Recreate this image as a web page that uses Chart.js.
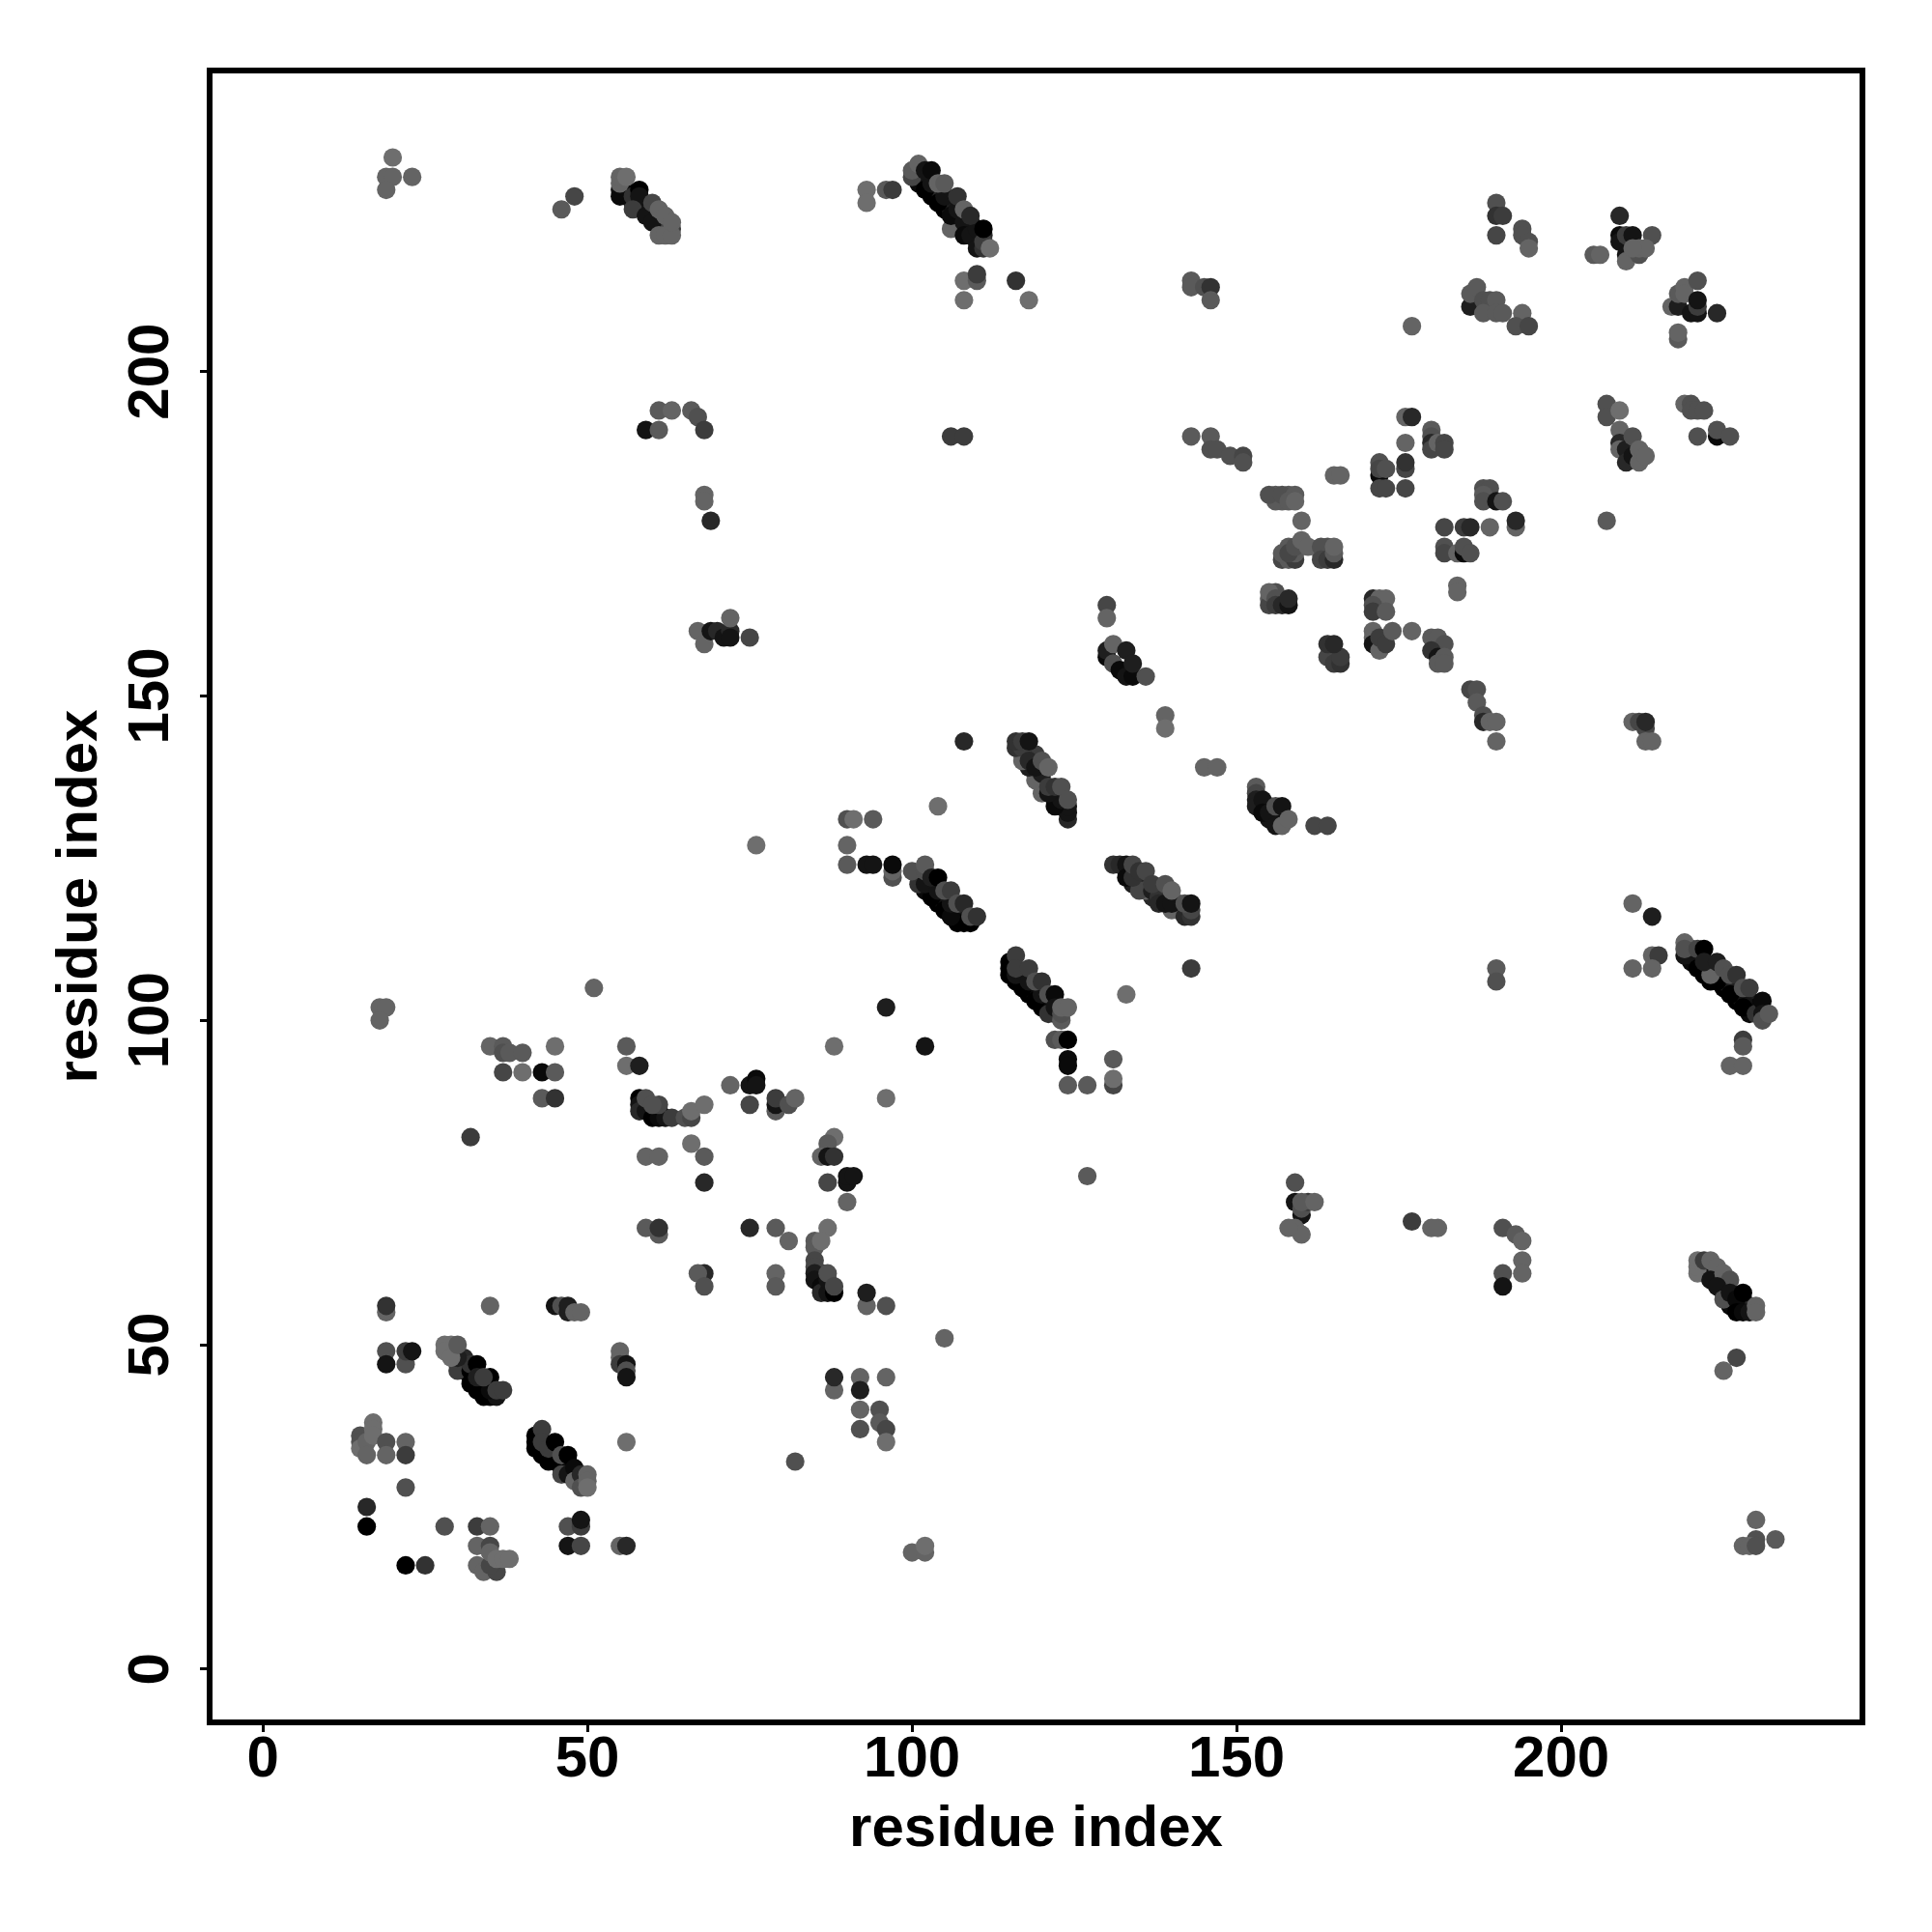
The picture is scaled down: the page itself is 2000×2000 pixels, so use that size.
<!DOCTYPE html>
<html>
<head>
<meta charset="utf-8">
<style>html,body{margin:0;padding:0;background:#fff}canvas{display:block}</style>
<script src="https://cdn.jsdelivr.net/npm/chart.js@4/dist/chart.umd.min.js"></script>
</head>
<body>
<canvas id="c" width="2000" height="2000"></canvas>
<script>
// every contact: [residue i, residue j, score 0..12]
const tickValues = [0, 50, 100, 150, 200];
const axisLabel = "residue index";

const lowLeft = [[68,61,8],[67,61,3],[68,59,4],[19,55,2],[19,56,7],[35,56,2],[45,56,10],[46,56,4],[47,55,9],[47,56,9],[48,55,2],[49,55,2],
[19,49,4],[19,47,10],[22,47,4],[22,49,6],[23,49,10],[55,49,2],[55,48,2],[55,47,6],[56,47,10],[56,46,4],[56,45,10],[56,35,1],
[15,36,4],[15,35,4],[15,34,1],[16,35,2],[17,38,1],[17,37,1],[17,36,1],[16,33,2],[19,35,4],[19,33,2],[22,35,2],[22,33,6],[22,28,4],[16,25,8],[16,22,12],
[28,22,4],[33,22,6],[35,22,2],[33,19,2],[35,19,5],[33,16,2],[34,15,2],[36,15,5],[35,16,5],[35,18,2],[36,17,1],[37,17,1],[38,17,1],
[22,16,12],[25,16,7],[47,22,4],[49,22,6],[49,23,10],[47,19,10],[49,19,5],[55,19,2],[56,19,8]];

const diagonalFill = [[31,46,12],[32,45,12],[33,44,12],[34,43,12],[34,44,11],[31,48,8],[31,47,9],[29,49,2],
[43,34,12],[44,33,12],[45,33,11],[46,31,10],[47,32,11],[48,30,8],
[102,120,11],[104,118,12],[106,116,12],[103,120,10],[105,118,10],[107,116,10],[108,116,10],
[116,106,12],[118,104,12],[120,102,12],[117,106,11],[119,104,11],[121,102,11],[122,101,10],
[133,123,11],[134,121,9],[135,121,8],[137,119,8],[138,120,6],[139,119,6],[141,117,8],[141,118,5],[142,117,7],
[118,141,9],[119,138,10],[120,137,9],[122,135,10],[123,133,10],[119,141,6],[120,139,5],[122,134,9],[117,141,8],
[155,133,10],[155,131,10],[156,132,10],[154,133,10],
[56,228,11],[56,227,10],[57,226,9],[58,226,11],[59,225,10],[60,225,6],[60,224,8],[61,223,8],[61,224,4],[62,223,4],[62,222,5],
[101,229,11],[102,230,10],[103,227,12],[104,228,8],[105,225,12],[106,226,7],[106,225,9],[107,224,11],[107,223,11],[108,224,9],[109,223,9],[109,222,11],[110,221,11],[110,220,10],[111,221,8],
[220,109,11],[221,110,10],[222,107,12],[223,106,12],[223,108,11],[225,105,12],[225,106,10],[227,103,12],[227,104,9],[229,101,11],[229,103,9],[230,102,11],[226,105,9],[228,103,10],[224,107,8],[220,110,10],
[222,62,7],[222,61,9],[223,61,10],[224,60,10],[225,59,11],[225,58,10],[226,57,11],[226,56,11],[227,56,12],[228,56,12],[228,57,11],[229,56,8],[224,61,6],[225,60,9],
[86,60,10],[86,61,9],[87,59,11],[59,87,11],[60,86,11],[61,86,9],
[156,181,3],[158,181,3],[157,180,3],[156,180,3],[157,171,5],[158,171,3],[158,173,3],[159,171,6],[159,172,3],[163,172,4],[164,173,4],[155,165,3],[155,164,5],[156,166,4]];

const helixA = [[30,47,8],[30,46,6],[32,46,12],[32,44,12],[33,43,12],[34,42,12],[35,42,12],[36,42,10],[35,43,11],[32,47,7],[33,47,12],[33,45,9],[35,45,12],[34,45,6],[36,43,6],[37,43,6],[30,48,9],[28,50,1],[29,50,1],[28,49,1],[29,48,1],[30,50,3]];
const helixB = [[42,36,12],[42,35,12],[42,34,12],[43,33,12],[44,32,12],[45,32,12],[43,37,6],[43,35,6],[44,34,6],[45,35,12],[46,33,4],[47,33,12],[46,30,5],[47,30,10],[48,31,11],[48,29,2],[49,30,8],[49,28,4],[50,30,2],[50,29,2],[50,28,1]];

const midLeft = [[51,105,2],[96,102,9],[35,96,2],[37,96,3],[37,95,4],[38,95,3],[40,95,3],[45,96,1],[37,92,5],[40,92,1],[43,92,11],[45,92,3],[43,88,3],[45,88,7],
[56,96,3],[56,93,1],[58,93,9],[32,82,6],[88,96,1],[96,88,1],
[58,88,12],[58,87,10],[58,86,8],[59,86,10],[60,85,12],[61,85,11],[62,85,10],[59,88,4],[61,87,5],[60,87,4],[63,85,6],[65,85,4],[66,85,5],[66,86,1],[68,87,1],
[72,90,2],[75,90,10],[76,91,11],[76,90,10],[75,87,5],[79,86,3],[79,87,10],[79,88,6],[81,87,4],[82,88,2],[66,81,1],[68,79,3],[68,75,8],[59,79,2],[61,79,2],
[88,82,1],[87,81,3],[86,79,2],[87,79,10],[88,79,7],[87,75,5],[90,75,10],[90,76,10],[91,76,10],[90,72,2],
[59,68,3],[61,67,3],[61,68,7],[75,68,8],[79,68,3],[81,66,2],[87,68,1],
[85,66,3],[85,65,3],[86,66,1],[85,63,5],[85,62,5],[85,61,9],[85,60,10],[86,59,11],[86,58,8],[87,58,10],[88,58,12],[87,60,10],[87,61,4],[88,59,5],
[93,56,2],[93,58,9],[96,56,4],[79,61,2],[79,59,3],[82,32,4],
[88,43,2],[88,45,8],[92,45,2],[92,43,9],[96,45,2],[92,40,2],[92,37,4],[95,40,4],[95,38,3],[96,37,5],[96,35,1],[105,51,2],[102,96,10],[100,18,2],[102,18,2],[102,19,1],[18,102,2],[19,102,2],[18,100,2]];

const helixC = [[103,119,12],[105,117,12],[107,115,12],[108,115,12],[109,115,12],[106,116,11],[101,121,7],[102,121,10],[104,120,10],[106,118,10],[100,123,4],[102,123,4],[102,124,3],[103,122,9],[104,122,12],[105,120,4],[106,120,6],[107,118,4],[108,118,8],[109,116,4],[110,116,7]];
const helixD = [[115,109,12],[115,108,12],[115,107,12],[117,105,12],[119,103,12],[116,107,10],[118,106,10],[120,104,10],[116,110,6],[116,108,6],[118,108,6],[119,106,4],[120,106,7],[121,104,4],[122,104,11],[121,101,7],[122,102,10],[123,100,3],[123,101,4],[123,102,2],[124,102,2]];
const helixE = [[140,117,2],[136,120,2],[131,124,7],[132,124,8],[133,124,10],[133,122,11],[135,120,5],[137,120,9],[134,122,7],[134,124,5],[135,123,7],[136,123,5],[138,119,7],[138,118,8],[139,118,10],[137,121,6],[139,121,4],[140,118,10],[140,120,2],[142,116,8],[143,116,7],[143,117,5],[142,118,4],[143,118,10]];
const helixF = [[124,131,8],[124,132,10],[124,133,10],[122,133,11],[123,134,10],[120,135,2],[121,135,10],[119,137,2],[120,138,9],[118,139,9],[117,140,2],[116,142,7],[117,142,6],[116,143,7],[117,143,6],[118,143,10],[118,140,8],[119,139,10],[120,140,4],[121,139,2],[121,136,6],[122,136,7],[123,136,4],[124,134,4]];
const helixG = [[153,136,3],[153,135,5],[153,134,9],[153,133,9],[154,134,10],[154,132,11],[155,132,10],[156,130,10],[157,130,2],[156,133,4],[157,133,10],[158,131,2]];
const center = [[90,131,4],[91,131,1],[94,131,3],[90,127,2],[90,124,3],[93,124,10],[94,124,10],[97,122,4],[97,123,2],[97,124,11],[104,133,1],[143,108,6],
[122,97,4],[123,97,3],[124,97,12],[124,94,11],[124,93,11],[124,90,3],[127,90,3],[131,94,3],[131,90,5],[131,91,1],[127,76,3],[133,104,1],[76,127,1],[108,143,8],
[139,147,2],[139,145,1],[145,139,2],[147,139,2],[162,130,5],[164,130,5],
[130,164,5],[130,162,2],[130,156,11],[130,157,9],[131,158,2],[131,155,4],[132,154,11],[133,153,10],[133,157,9],[134,153,11],[134,155,9],[136,153,4],
[67,160,2],[68,158,2],[69,160,10],[70,160,8],[71,159,10],[72,160,8],[72,159,10],[72,162,2],[75,159,5]];

const upperMid = [[176,193,2],[177,193,8],[176,189,2],[180,191,3],[180,190,4],[180,189,8],[180,188,5],[181,189,2],[182,189,5],[182,188,5],
[172,186,4],[172,184,11],[172,185,5],[173,185,4],[176,185,5],[176,186,7],[172,182,5],[173,182,5],[176,182,5],[165,184,2],[166,184,2],
[188,182,4],[189,182,4],[188,181,3],[188,180,4],[190,180,10],[191,180,4],[182,176,5],[185,176,6],[186,176,8],[189,176,2],[193,176,2],[193,177,8],
[182,173,4],[182,172,5],[184,172,2],[185,172,11],[185,173,4],[186,172,4],[184,167,2],[184,166,2],[207,177,3],
[171,165,8],[172,165,2],[173,165,2],[171,164,4],[171,163,6],[173,163,3],[171,160,2],[171,159,2],[171,158,10],[172,157,2],[172,159,6],[173,158,6],[174,160,3],[177,160,2],
[180,159,3],[181,159,3],[182,158,4],[180,157,7],[181,156,10],[182,156,3],[181,155,3],[182,155,3],
[186,151,5],[187,151,4],[187,149,3],[188,147,4],[188,146,8],[189,146,2],[190,146,2],[190,143,2],
[211,146,2],[212,146,5],[213,145,5],[213,146,8],[213,143,2],[214,143,2],
[155,181,4],[157,181,4],[159,181,3],[158,180,3],[159,180,2],[160,177,2],
[157,172,3],[158,172,5],[159,173,4],[160,174,2],[161,173,2],[163,173,4],[163,171,5],[164,171,6],[165,171,8],[165,172,3],[165,173,2],
[155,166,2],[156,165,4],[156,164,6],[157,164,8],[158,164,10],[158,165,8],
[164,156,5],[165,155,6],[166,155,7],[166,156,6],[164,158,7],[165,158,8],
[143,190,3],[146,190,3],[146,188,4],[147,188,4],[149,187,4],[151,187,5],[151,186,4],[106,190,6],[108,190,6]];

const topRow = [[20,233,1],[19,230,2],[20,230,2],[19,228,2],[23,230,2],[46,225,3],[48,227,5],
[55,228,10],[55,227,11],[57,227,7],[58,228,12],[58,227,10],[57,225,6],[59,224,10],[60,223,10],[60,226,5],[61,225,2],[62,224,2],[63,222,6],[61,221,2],[62,221,2],[63,221,2],[63,223,2],[55,229,2],[55,230,2],[56,230,1],
[93,228,1],[93,226,1],[96,228,3],[97,228,6],
[100,230,5],[100,231,3],[101,232,2],[102,228,12],[103,229,10],[104,226,12],[105,227,10],[106,222,2],[106,224,11],[107,225,10],[108,223,10],[108,221,11],[109,221,10],[110,222,10],[110,219,10],[111,219,7],[111,220,6],[102,231,10],[103,231,11],[104,229,2],[105,229,3],[107,227,7],[108,225,2],[109,224,8],[111,222,12],[112,219,1],
[108,214,1],[110,214,3],[110,215,6],[116,214,7],[108,211,1],[118,211,1],
[59,191,10],[61,191,3],[61,194,3],[63,194,2],[66,194,3],[67,193,4],[68,191,6],[68,181,2],[68,180,2],[69,177,8]];

const upperRight = [[190,226,4],[190,224,7],[191,224,6],[190,221,5],[194,222,4],[194,221,4],[195,220,4],[195,219,2],
[186,210,9],[186,212,3],[187,213,3],[188,211,4],[189,211,4],[190,211,3],[188,209,3],[190,209,3],[191,209,3],[194,209,2],[193,207,4],[195,207,5],[177,207,2],
[143,214,3],[143,213,3],[145,213,4],[146,213,7],[146,211,3],
[209,224,8],[209,221,11],[209,220,10],[210,218,10],[210,217,2],[210,221,6],[211,221,10],[214,221,4],[205,218,3],[206,218,2],[212,218,4],[212,219,2],[213,219,2],[211,219,2],
[217,210,2],[218,210,9],[218,212,3],[219,213,2],[219,212,2],[220,209,10],[221,209,10],[221,210,6],[221,211,10],[221,214,4],[224,209,8],[218,205,3],[218,206,2],
[207,195,4],[207,193,4],[209,194,1],[219,195,2],[220,195,4],[220,194,4],[221,194,4],[222,194,4],[221,190,4],[224,190,11],[224,191,4],[226,190,4],
[209,191,2],[209,189,8],[209,188,2],[210,188,9],[210,186,8],[211,187,10],[211,190,4],[212,188,2],[212,186,2],[213,187,2]];

const lowerRight = [[211,118,2],[214,116,9],[214,110,2],[215,110,6],[214,108,2],[211,108,2],[190,108,3],[190,106,4],
[219,110,10],[220,111,10],[221,108,12],[224,106,12],[226,104,12],[228,102,12],[223,107,2],[219,112,2],[219,111,4],[221,111,5],[222,111,12],[222,109,9],[224,109,9],[225,108,4],[226,107,4],[227,107,7],[228,105,4],[229,105,6],[230,101,7],[231,103,11],[231,101,10],[231,100,4],[232,101,3],
[228,97,6],[228,96,3],[226,93,2],[228,93,2],
[159,75,4],[159,72,10],[160,70,10],[160,71,4],[161,72,6],[160,72,3],[162,72,2],[159,68,2],[160,67,2],[158,68,2],
[177,69,6],[180,68,2],[181,68,2],[191,68,4],[193,67,3],[194,66,2],[194,63,2],[194,61,2],[191,61,4],[191,59,10],
[221,61,1],[221,62,1],[221,63,1],[222,63,6],[223,63,2],[224,62,2],[223,60,10],[225,61,2],[226,60,4],[224,59,10],[225,57,4],[226,58,10],[227,57,11],[227,55,12],[228,55,11],[229,55,10],[228,58,12],[230,56,2],[230,55,2],
[227,48,5],[225,46,2],[230,23,2],[230,20,4],[228,19,2],[229,19,2],[230,19,4],[233,20,3]];

const contacts = [...diagonalFill, ...lowLeft, ...helixA, ...helixB, ...midLeft, ...helixC, ...helixD, ...helixE, ...helixF, ...helixG, ...center, ...upperMid, ...topRow, ...upperRight, ...lowerRight];

const grey = s => { const g = 120 - 10 * s; return `rgb(${g},${g},${g})`; };
const family = "'Liberation Sans', Arial, sans-serif";
const labelFont = { family, weight: "bold", size: 60 };
const titleFont = { family, weight: "bold", size: 60 };

const frameAndLabels = {
  id: "frameAndLabels",
  afterDatasetsDraw(chart) {
    const { ctx, chartArea: a, scales } = chart;
    ctx.save();
    ctx.strokeStyle = "#000";
    ctx.lineWidth = 6;
    ctx.strokeRect(a.left, a.top, a.right - a.left, a.bottom - a.top);
    ctx.fillStyle = "#000";
    ctx.font = `bold ${labelFont.size}px ${family}`;
    ctx.textAlign = "center";
    ctx.textBaseline = "alphabetic";
    tickValues.forEach(v => {
      ctx.save();
      ctx.translate(174, scales.y.getPixelForValue(v));
      ctx.rotate(-Math.PI / 2);
      ctx.fillText(String(v), 0, 0);
      ctx.restore();
    });
    ctx.restore();
  }
};

function axis(isX) {
  return {
    type: "linear",
    min: -8.2,
    max: 246.4,
    afterBuildTicks: s => { s.ticks = tickValues.map(v => ({ value: v })); },
    afterFit: s => { if (isX) s.height = 217; else s.width = 217; },
    grid: { display: true, drawOnChartArea: false, drawTicks: true, tickLength: 10, tickWidth: 3, tickColor: "#000" },
    border: { display: false },
    ticks: {
      display: isX,
      color: "#000", font: labelFont, padding: -7, autoSkip: false,
      minRotation: 0, maxRotation: 0,
      callback: v => String(v)
    },
    title: { display: true, text: axisLabel, color: "#000", font: titleFont, padding: isX ? { top: 0, bottom: 70 } : { top: 47, bottom: 0 } }
  };
}

new Chart(document.getElementById("c"), {
  type: "scatter",
  data: {
    datasets: [{
      label: "contacts",
      data: contacts.map(c => ({ x: c[0], y: c[1] })),
      backgroundColor: contacts.map(c => grey(c[2])),
      borderWidth: 0,
      pointRadius: 9.6,
      pointHoverRadius: 9.6
    }]
  },
  options: {
    responsive: false,
    animation: false,
    layout: { padding: { left: 0, top: 73, right: 72, bottom: 0 } },
    plugins: { legend: { display: false }, tooltip: { enabled: false } },
    scales: { x: axis(true), y: axis(false) }
  },
  plugins: [frameAndLabels]
});
</script>
</body>
</html>
